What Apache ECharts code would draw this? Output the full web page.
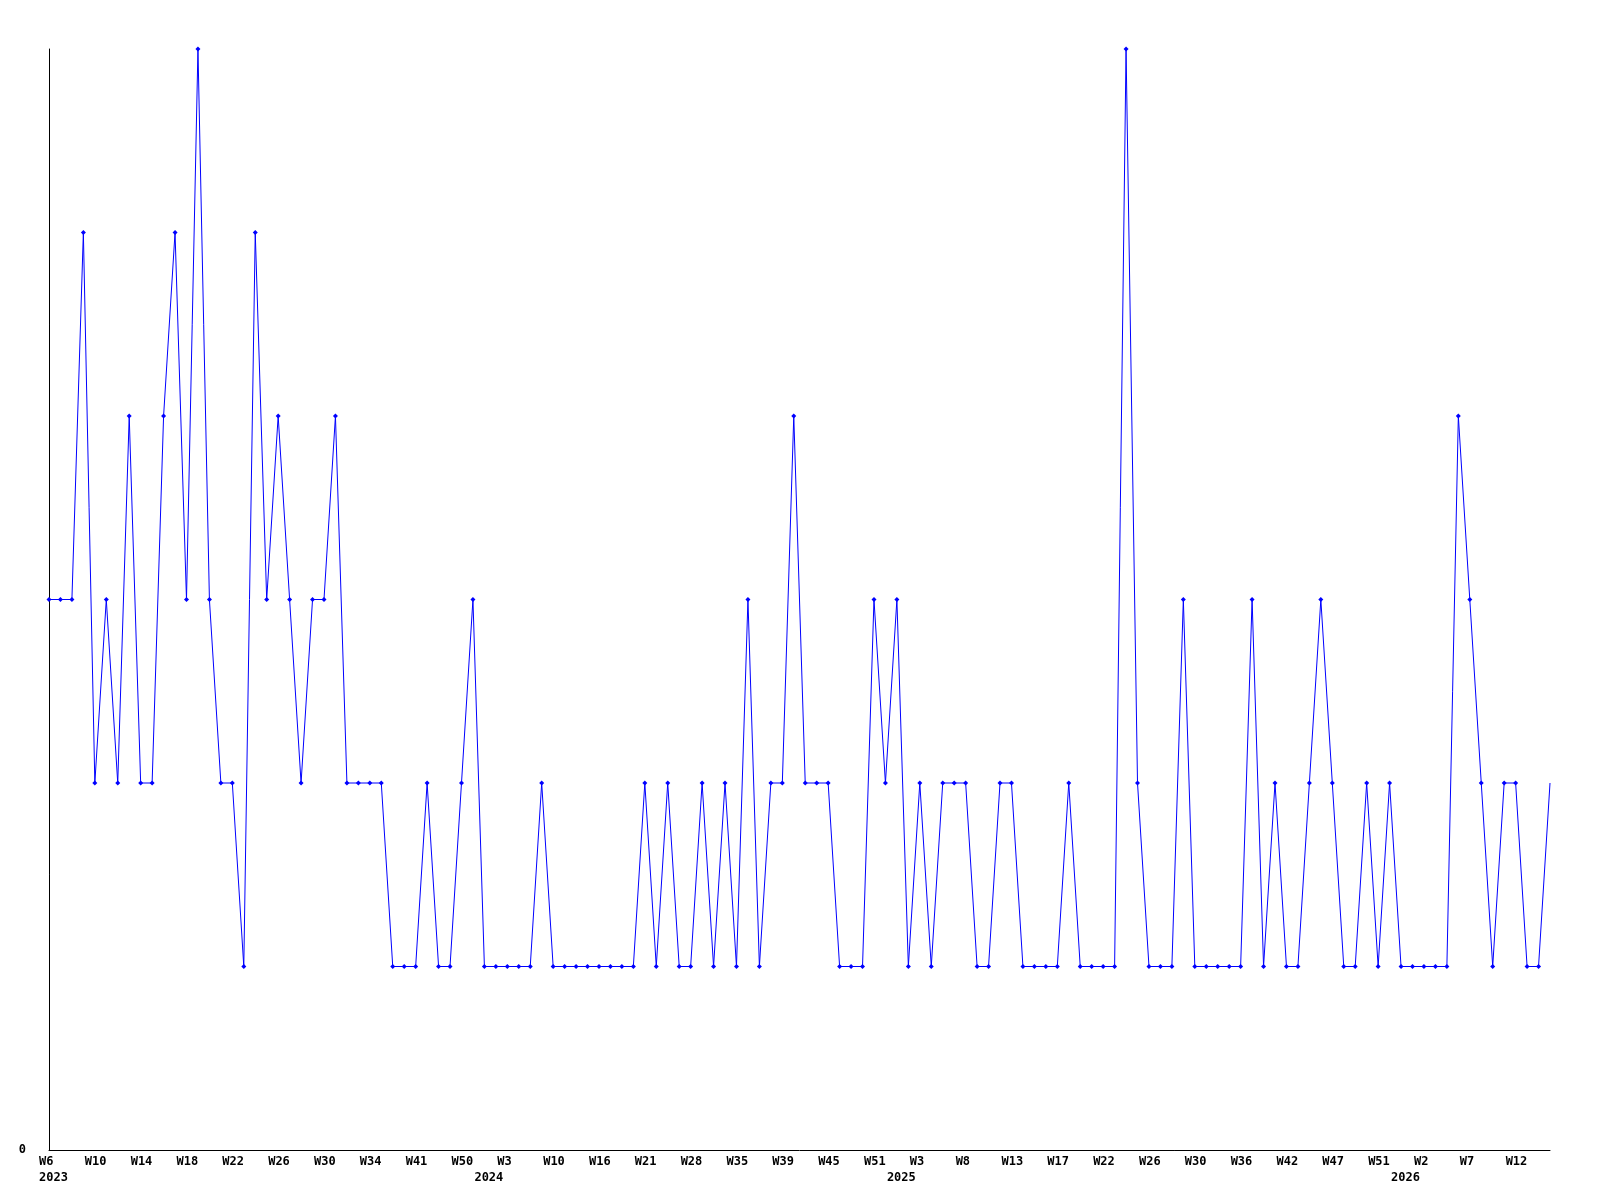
<!DOCTYPE html>
<html>
<head>
<meta charset="utf-8">
<script src="https://cdn.jsdelivr.net/npm/echarts@6/dist/echarts.min.js"></script>
<style>
html,body{margin:0;padding:0;background:#fff;}
#chart{width:1600px;height:1200px;}
</style>
</head>
<body>
<div id="chart"></div>
<script>
// values per sample (132 samples)
const values = [
  3,3,3,5,2,3,2,4,2,2,
  4,5,3,6,3,2,2,1,5,3,
  4,3,2,3,3,4,2,2,2,2,
  1,1,1,2,1,1,2,3,1,1,
  1,1,1,2,1,1,1,1,1,1,
  1,1,2,1,2,1,1,2,1,2,
  1,3,1,2,2,4,2,2,2,1,
  1,1,3,2,3,1,2,1,2,2,
  2,1,1,2,2,1,1,1,1,2,
  1,1,1,1,6,2,1,1,1,3,
  1,1,1,1,1,3,1,2,1,1,
  2,3,2,1,1,2,1,2,1,1,
  1,1,1,4,3,2,1,2,2,1,
  1,2
];
// week tick labels, one every 4 samples
const weekLabels = [
  'W6','W10','W14','W18','W22','W26','W30','W34','W41','W50',
  'W3','W10','W16','W21','W28','W35','W39','W45','W51',
  'W3','W8','W13','W17','W22','W26','W30','W36','W42','W47','W51',
  'W2','W7','W12'
];
// year labels and the sample index where each year starts
const yearLabels = ['2023','2024','2025','2026'];
const yearStarts = [0, 38, 74, 118];

const categories = values.map((v, i) => String(i));
const seriesData = values.map((v, i) =>
  i === values.length - 1 ? { value: v, symbol: 'none' } : v);

const chart = echarts.init(document.getElementById('chart'));
chart.setOption({
  animation: false,
  backgroundColor: '#ffffff',
  grid: { left: 49, right: 50, top: 49, bottom: 50, containLabel: false },
  xAxis: {
    type: 'category',
    data: categories,
    boundaryGap: false,
    axisLine: { lineStyle: { color: '#000', width: 1 } },
    axisTick: { show: false },
    splitLine: { show: false },
    axisLabel: {
      interval: 0,
      hideOverlap: false,
      margin: 4,
      align: 'center',
      formatter: function (val, idx) {
        const w = (idx % 4 === 0 && weekLabels[idx / 4]) ? weekLabels[idx / 4] : '';
        const yk = yearStarts.indexOf(idx);
        const y = yk >= 0 ? yearLabels[yk] : '';
        if (!w && !y) return '';
        if (!y) return '{a|' + w + '}';
        return '{a|' + (w || ' ') + '}\n{a|' + y + '}';
      },
      rich: {
        a: {
          width: 20,
          align: 'left',
          fontFamily: 'DejaVu Sans Mono',
          fontWeight: 'bold',
          fontSize: 12,
          lineHeight: 16,
          color: '#000'
        }
      }
    }
  },
  yAxis: {
    type: 'value',
    min: 0,
    max: 6,
    interval: 1,
    axisLine: { show: true, lineStyle: { color: '#000', width: 1 } },
    axisTick: { show: false },
    splitLine: { show: false },
    axisLabel: {
      margin: 23,
      fontFamily: 'DejaVu Sans Mono',
      fontWeight: 'bold',
      fontSize: 12,
      color: '#000',
      formatter: function (v) { return v === 0 ? '0' : ''; }
    }
  },
  series: [{
    type: 'line',
    data: seriesData,
    symbol: 'diamond',
    symbolSize: 5,
    showAllSymbol: true,
    lineStyle: { color: '#0000ff', width: 1 },
    itemStyle: { color: '#0000ff' },
    emphasis: { disabled: true }
  }]
});
</script>
</body>
</html>
